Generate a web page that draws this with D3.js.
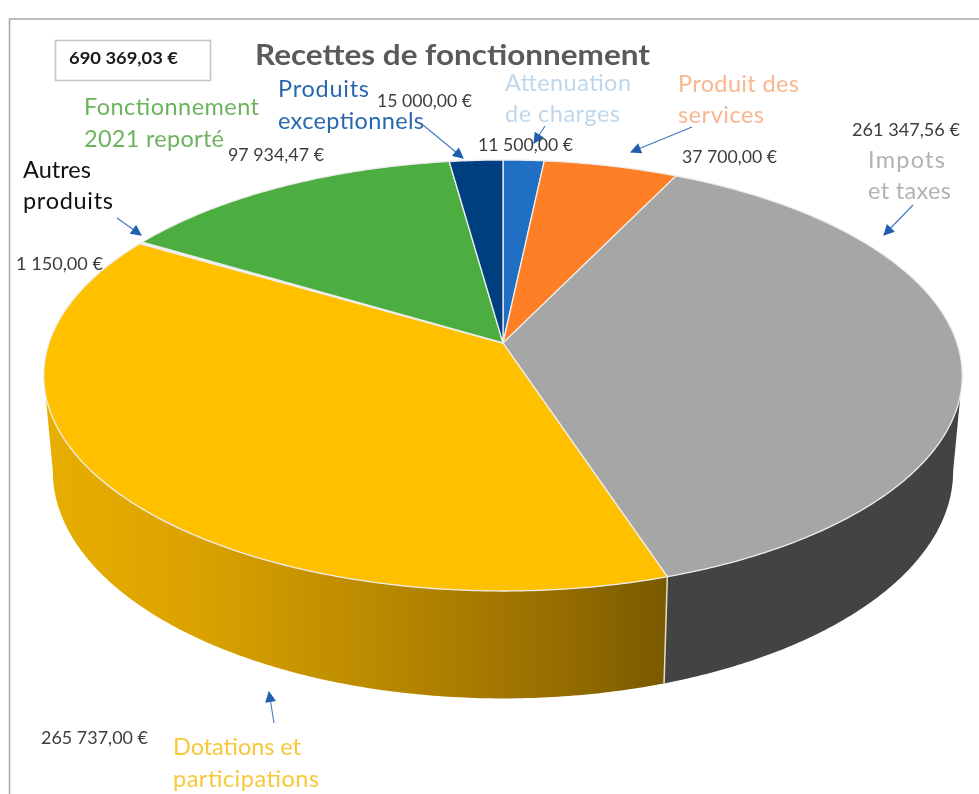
<!DOCTYPE html>
<html lang="fr"><head><meta charset="utf-8">
<script src="https://cdn.jsdelivr.net/npm/d3@7"></script>
<style>
html,body{margin:0;padding:0;background:#fff}
svg{display:block;filter:blur(0.55px)}
text{font-family:Lato,"Open Sans",sans-serif}
</style></head><body>
<svg id="c" width="979" height="794"></svg>
<script>
const categories = ["Attenuation de charges","Produit des services","Impots et taxes","Dotations et participations","Autres produits","Fonctionnement 2021 reporté","Produits exceptionnels"];
const values = [11500, 37700, 261347.56, 265737, 1150, 97934.47, 15000];
const valueLabels = ["11 500,00 €","37 700,00 €","261 347,56 €","265 737,00 €","1 150,00 €","97 934,47 €","15 000,00 €"];
const colors = ["#1f6fc4","#ff7f27","#a6a6a6","#ffc000","#f2f2f2","#4cae41","#003f7f"];
const wallColors = {2:"#434343",3:"url(#wallY)"};
const labelLines = [["Attenuation","de charges"],["Produit des","services"],["Impots","et taxes"],["Dotations et","participations"],["Autres","produits"],["Fonctionnement","2021 reporté"],["Produits","exceptionnels"]];
const labelColors = ["#bdd7ee","#f8b78e","#b2b2b2","#f6c83a","#111111","#6db35f","#2a68ad"];
const title = "Recettes de fonctionnement";
const total = "690 369,03 €";

const labelPos = [[505,91,31],[678,92,31],[868,168,31],[173,755,32],[23,178,31],[84,115,32],[278,97,32]];
const labelW = [[126,115],[121,86],[77,83],[128,146],[68,90],[175,140],[91,146]];
const valuePos = [[478,151],[682,163],[852,136],[41,744],[16,270],[228,161],[377,107]];
const valueW = [95,95,108,107,87,96,95];
const arrows = [[913,205,884,235],[692,127,631,152],[545,126,534,143],[423,125,463,158],[117,218,141,235],[274,723,269,692]];

const svg = d3.select("#c");
const defs = svg.append("defs");
const g = defs.append("linearGradient").attr("id","wallY").attr("gradientUnits","userSpaceOnUse")
  .attr("x1",45).attr("x2",665).attr("y1",0).attr("y2",0);
[[0,"#e8ae00"],[.25,"#daa200"],[.55,"#b88800"],[.8,"#9a7000"],[1,"#7a5a00"]].forEach(s=>g.append("stop").attr("offset",s[0]).attr("stop-color",s[1]));
const mk = defs.append("marker").attr("id","ah").attr("viewBox","0 0 10 10").attr("refX",9).attr("refY",5)
  .attr("markerWidth",12).attr("markerHeight",11).attr("markerUnits","userSpaceOnUse").attr("orient","auto");
mk.append("path").attr("d","M0,0L10,5L0,10Z").attr("fill","#1f5fae");

// Frame
svg.append("path").attr("d","M9.5,794V19H979").attr("fill","none").attr("stroke","#a6a6a6").attr("stroke-width",1.5);

// Perspective projection of the pie disc
const top3 = {cx:503, cy:343, K:454, k:210.6, p:0.1508};
const bot3 = {cx:503, cy:437, K:445, k:222, p:0.1508};
const proj = (P,a)=>{const u=Math.sin(a),v=Math.cos(a),d=1+P.p*v;return [P.cx+u*P.K/d,P.cy-v*P.k/d];};
const rimPts = (P,a0,a1)=>{const n=Math.max(2,Math.ceil(Math.abs(a1-a0)/0.01));return d3.range(n+1).map(i=>proj(P,a0+(a1-a0)*i/n));};
const line = d3.line();

const arcs = d3.pie().sort(null).value(d=>d)(values);
const aL = Math.acos(-top3.p), aR = 2*Math.PI-aL;

// Walls
arcs.forEach((d,i)=>{
  const a0=Math.max(d.startAngle,aL), a1=Math.min(d.endAngle,aR);
  if(a1<=a0) return;
  const pts=rimPts(top3,a0,a1).concat(rimPts(bot3,a1,a0));
  svg.append("path").attr("d",line(pts)+"Z").attr("fill",wallColors[i]||colors[i]);
});
// wall seam
const s0=proj(top3,arcs[2].endAngle), s1=proj(bot3,arcs[2].endAngle);
svg.append("path").attr("d",line([s0,s1])).attr("stroke","#e9dfb8").attr("stroke-width",1.5);
// Slices
arcs.forEach((d,i)=>{
  const pts=[[top3.cx,top3.cy]].concat(rimPts(top3,d.startAngle,d.endAngle));
  svg.append("path").attr("d",line(pts)+"Z").attr("fill",colors[i]).attr("stroke","#ededed").attr("stroke-width",1.3).attr("stroke-linejoin","round");
});

// Arrows
arrows.forEach(a=>svg.append("line").attr("x1",a[0]).attr("y1",a[1]).attr("x2",a[2]).attr("y2",a[3])
  .attr("stroke","#3f78bd").attr("stroke-width",1.1).attr("marker-end","url(#ah)"));

// Total box
svg.append("rect").attr("x",55.5).attr("y",40.5).attr("width",155).attr("height",40).attr("fill","#fff").attr("stroke","#c4c4c4").attr("stroke-width",1.6);
svg.append("text").attr("x",69).attr("y",64).attr("font-size",17).attr("font-weight",700).attr("fill","#1a1a1a").attr("textLength",109).attr("lengthAdjust","spacingAndGlyphs").text(total);
// Title
svg.append("text").attr("x",255).attr("y",65).attr("font-size",28.5).attr("font-weight",700).attr("fill","#5a5a5a").attr("textLength",395).attr("lengthAdjust","spacingAndGlyphs").text(title);
// Category labels
labelLines.forEach((ls,i)=>{
  ls.forEach((t,j)=>svg.append("text").attr("x",labelPos[i][0]).attr("y",labelPos[i][1]+j*labelPos[i][2])
    .attr("font-size",23.5).attr("fill",labelColors[i]).attr("textLength",labelW[i][j]).text(t));
});
// Value labels
valueLabels.forEach((t,i)=>svg.append("text").attr("x",valuePos[i][0]).attr("y",valuePos[i][1])
  .attr("font-size",17).attr("fill","#3d3d3d").attr("textLength",valueW[i]).attr("lengthAdjust","spacingAndGlyphs").text(t));
</script>
</body></html>
